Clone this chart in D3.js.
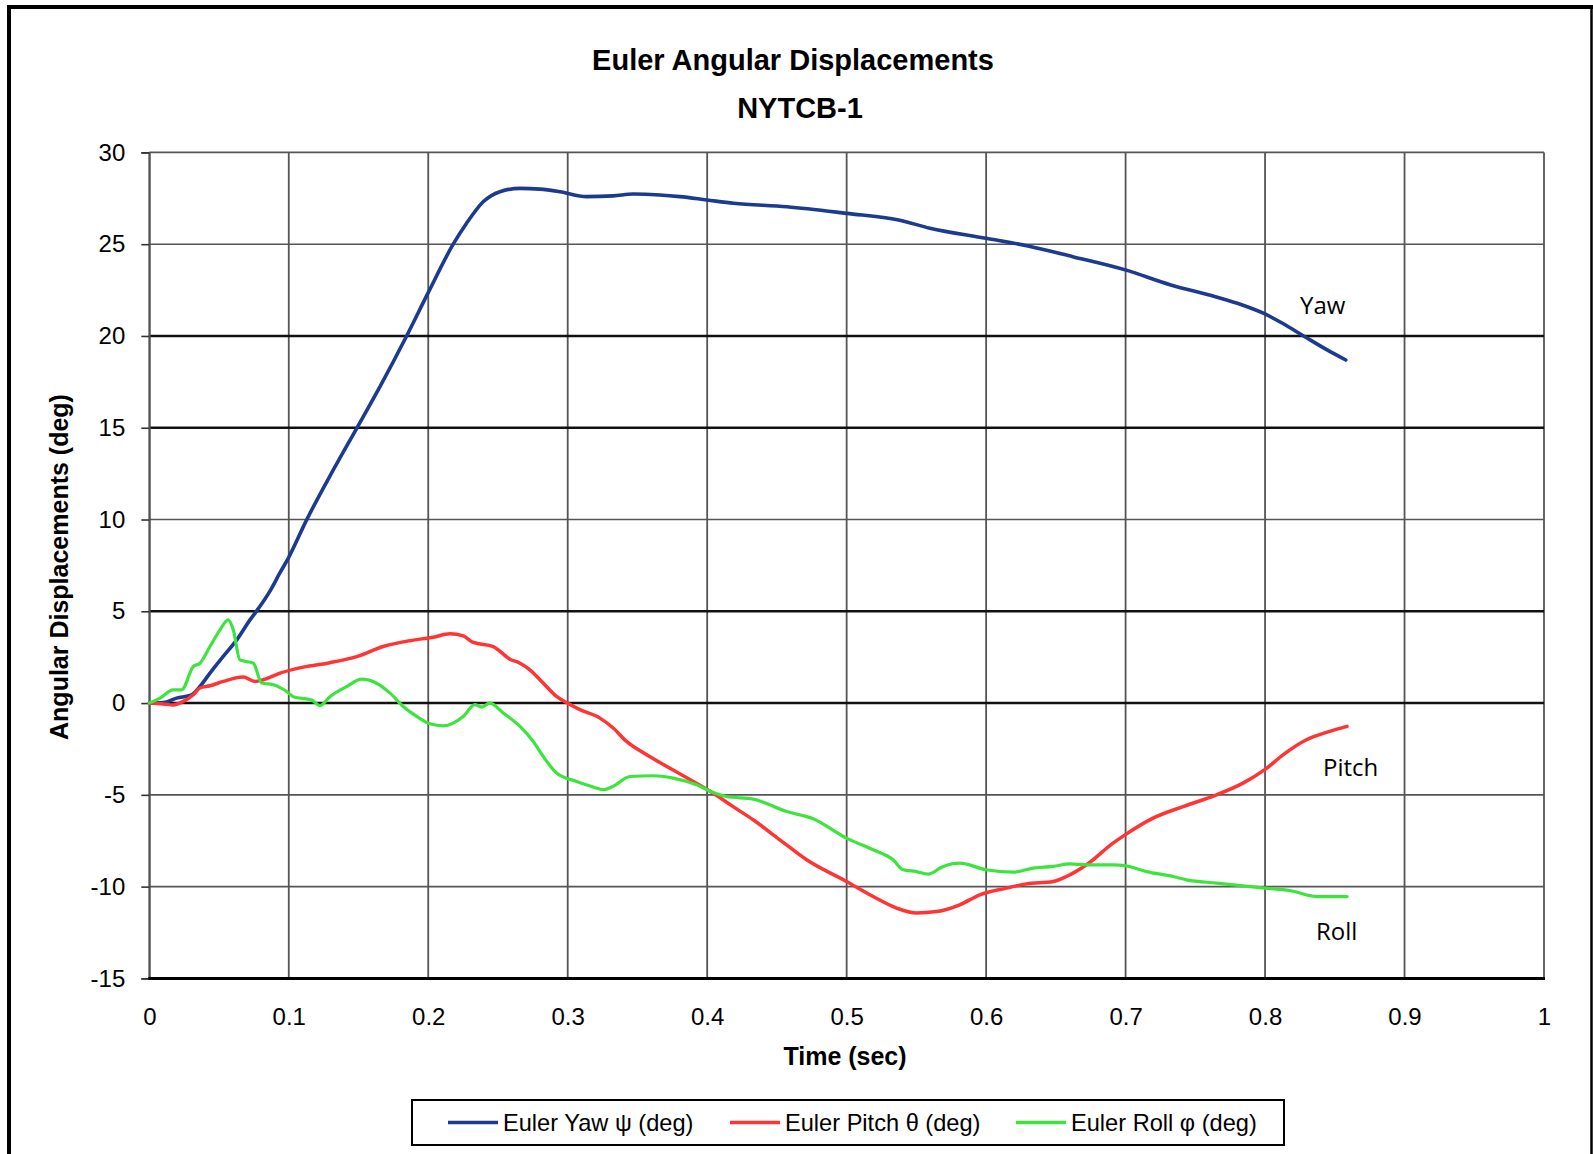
<!DOCTYPE html>
<html>
<head>
<meta charset="utf-8">
<script src="https://cdn.jsdelivr.net/npm/d3@7"></script>
<style>
  html, body { margin: 0; padding: 0; background: #fff; }
  svg { display: block; }
  text { font-family: "Liberation Sans", Arial, sans-serif; fill: #000; }
</style>
</head>
<body>
<svg id="chart" width="1593" height="1154"></svg>
<script>
// ---------------- data ----------------
const titleText = "Euler Angular Displacements";
const subtitleText = "NYTCB-1";
const xTitle = "Time (sec)";
const yTitle = "Angular Displacements (deg)";
const xTicks = [0, 0.1, 0.2, 0.3, 0.4, 0.5, 0.6, 0.7, 0.8, 0.9, 1];
const yTicks = [-15, -10, -5, 0, 5, 10, 15, 20, 25, 30];
const seriesNames = ["Euler Yaw \u03c8 (deg)", "Euler Pitch \u03b8 (deg)", "Euler Roll \u03c6 (deg)"];
const seriesLabels = ["Yaw", "Pitch", "Roll"];

const yawT = [0,0.01,0.0196,0.0304,0.0363,0.0435,0.053,0.0627,0.0722,0.077,0.0865,0.0937,0.0997,0.1128,0.1319,0.1487,0.1654,0.1845,0.1998,0.2179,0.2275,0.2394,0.2514,0.2658,0.2801,0.2944,0.3135,0.3326,0.347,0.366,0.3804,0.3997,0.4189,0.4572,0.4998,0.5373,0.5597,0.6,0.63,0.6621,0.6998,0.7324,0.7644,0.7837,0.8,0.8125,0.8285,0.8445,0.8579];
const yawV = [0,0.03,0.27,0.45,0.9,1.63,2.54,3.44,4.53,5.02,6.1,7.1,7.9,9.98,12.7,14.97,17.24,20.0,22.33,25.0,26.14,27.31,27.86,28.04,28.0,27.86,27.59,27.63,27.73,27.68,27.59,27.41,27.23,27.04,26.68,26.32,25.87,25.32,24.9,24.32,23.6,22.78,22.14,21.69,21.2,20.69,19.96,19.24,18.69];

const pitchT = [0,0.01,0.0172,0.0244,0.0315,0.0363,0.0435,0.053,0.0674,0.0758,0.0817,0.0937,0.1104,0.1295,0.1487,0.1677,0.1869,0.2036,0.2156,0.2251,0.2323,0.2466,0.2586,0.2658,0.2729,0.2824,0.292,0.2997,0.3088,0.3231,0.3326,0.3422,0.3566,0.3733,0.39,0.4043,0.4186,0.433,0.4521,0.4713,0.4999,0.519,0.5358,0.5501,0.5645,0.5811,0.5955,0.6146,0.629,0.648,0.6576,0.672,0.691,0.6996,0.7197,0.7412,0.7652,0.7842,0.7998,0.8129,0.8297,0.8464,0.8588];
const pitchV = [0,-0.05,-0.1,0.09,0.45,0.82,0.94,1.18,1.42,1.18,1.27,1.63,1.96,2.2,2.53,3.08,3.4,3.59,3.77,3.66,3.3,3.08,2.39,2.17,1.81,1.09,0.36,0,-0.36,-0.82,-1.36,-2.09,-2.82,-3.55,-4.27,-4.91,-5.64,-6.36,-7.45,-8.54,-9.72,-10.54,-11.17,-11.44,-11.36,-10.99,-10.45,-10.08,-9.85,-9.72,-9.45,-8.81,-7.63,-7.18,-6.27,-5.64,-5.0,-4.36,-3.63,-2.82,-2.0,-1.54,-1.27];

const rollT = [0,0.0077,0.0172,0.0232,0.0315,0.0363,0.0435,0.0507,0.0566,0.0602,0.065,0.0698,0.0746,0.0806,0.0889,0.0985,0.1032,0.1164,0.1224,0.1295,0.1415,0.1523,0.163,0.1726,0.1821,0.1917,0.2012,0.2108,0.2251,0.2335,0.2383,0.2442,0.2538,0.2658,0.2753,0.2824,0.292,0.3064,0.3183,0.3255,0.3326,0.3446,0.3613,0.3756,0.3924,0.4043,0.4139,0.433,0.4569,0.476,0.4999,0.519,0.5333,0.5405,0.5501,0.5584,0.5692,0.5811,0.5998,0.6194,0.6337,0.648,0.66,0.672,0.691,0.6996,0.715,0.734,0.7437,0.7652,0.7998,0.8177,0.8369,0.8588];
const rollV = [0,0.27,0.72,0.72,1.99,2.17,3.08,3.99,4.53,3.99,2.35,2.26,2.17,1.09,1.0,0.63,0.35,0.17,-0.14,0.35,0.9,1.3,1.08,0.54,-0.19,-0.73,-1.13,-1.24,-0.73,-0.09,-0.22,0,-0.54,-1.27,-2.09,-2.9,-3.81,-4.27,-4.57,-4.72,-4.54,-4.0,-3.96,-4.09,-4.45,-4.87,-5.09,-5.23,-5.91,-6.3,-7.36,-7.99,-8.54,-9.08,-9.18,-9.32,-8.9,-8.72,-9.08,-9.21,-8.99,-8.9,-8.76,-8.81,-8.81,-8.86,-9.18,-9.45,-9.63,-9.81,-10.08,-10.21,-10.54,-10.54];

// ---------------- layout ----------------
const colors = ["#1c3a8e", "#ff3434", "#3ee43e"];
const widths = [3.6, 3.5, 3.2];
const plot = { left: 149.3, right: 1544, top: 152.4, bottom: 978.4 };

const svg = d3.select("#chart");
const x = d3.scaleLinear().domain([0, 1]).range([plot.left, plot.right]);
const y = d3.scaleLinear().domain([-15, 30]).range([plot.bottom, plot.top]);

// outer frame
svg.append("line").attr("x1", 9).attr("y1", 5).attr("x2", 9).attr("y2", 1160).attr("stroke", "#000").attr("stroke-width", 4);
svg.append("line").attr("x1", 7).attr("y1", 7).attr("x2", 1593).attr("y2", 7).attr("stroke", "#000").attr("stroke-width", 4);
svg.append("line").attr("x1", 1591.5).attr("y1", 5).attr("x2", 1591.5).attr("y2", 1160).attr("stroke", "#000").attr("stroke-width", 2.5);

// titles
svg.append("text").attr("x", 793).attr("y", 70).attr("text-anchor", "middle")
  .style("font-size", "29px").style("font-weight", "bold").text(titleText);
svg.append("text").attr("x", 800).attr("y", 118).attr("text-anchor", "middle")
  .style("font-size", "29px").style("font-weight", "bold").text(subtitleText);

// gridlines
const thickY = new Set([20, 15, 5, 0]);
const grid = svg.append("g");
grid.selectAll("line.v").data(xTicks).enter().append("line")
  .attr("x1", d => x(d)).attr("x2", d => x(d))
  .attr("y1", plot.top).attr("y2", plot.bottom)
  .attr("stroke", "#555").attr("stroke-width", 1.8);
grid.selectAll("line.h").data(yTicks.filter(d => d !== -15)).enter().append("line")
  .attr("x1", plot.left).attr("x2", plot.right)
  .attr("y1", d => y(d)).attr("y2", d => y(d))
  .attr("stroke", d => thickY.has(d) ? "#111" : "#555")
  .attr("stroke-width", d => thickY.has(d) ? 2.6 : 1.6);

// axes
const yAxis = d3.axisLeft(y).tickValues(yTicks).tickSize(8).tickPadding(16).tickFormat(d3.format("d"));
const gy = svg.append("g").attr("transform", `translate(${plot.left},0)`).call(yAxis);
gy.select(".domain").attr("stroke", "#555").attr("stroke-width", 1.8);
gy.selectAll(".tick line").attr("stroke", "#333").attr("stroke-width", 1.6);
gy.selectAll(".tick text").style("font-size", "24px").style("font-family", '"Liberation Sans", Arial, sans-serif')
  .text(d => d < 0 ? "-" + Math.abs(d) : d);

const xAxis = d3.axisBottom(x).tickValues(xTicks).tickSize(0).tickPadding(30).tickFormat(d => d === 0 ? "0" : d === 1 ? "1" : d3.format(".1f")(d));
const gx = svg.append("g").attr("transform", `translate(0,${plot.bottom})`).call(xAxis);
gx.select(".domain").remove();
gx.selectAll(".tick text").style("font-size", "24px").style("font-family", '"Liberation Sans", Arial, sans-serif');
svg.append("line").attr("x1", plot.left - 1).attr("x2", plot.right + 1)
  .attr("y1", plot.bottom).attr("y2", plot.bottom).attr("stroke", "#000").attr("stroke-width", 3);

// axis titles
svg.append("text").attr("x", 845).attr("y", 1065).attr("text-anchor", "middle")
  .style("font-size", "25px").style("font-weight", "bold").text(xTitle);
svg.append("text").attr("transform", "translate(68,567) rotate(-90)").attr("text-anchor", "middle")
  .style("font-size", "25px").style("font-weight", "bold").text(yTitle);

// series
const series = [
  { t: yawT, v: yawV },
  { t: pitchT, v: pitchV },
  { t: rollT, v: rollV }
];
const line = d3.line().x(d => x(d[0])).y(d => y(d[1])).curve(d3.curveMonotoneX);
series.forEach((s, i) => {
  const pts = s.t.map((t, k) => [t, s.v[k]]);
  svg.append("path").datum(pts).attr("d", line)
    .attr("fill", "none").attr("stroke", colors[i]).attr("stroke-width", widths[i])
    .attr("stroke-linejoin", "round").attr("stroke-linecap", "round");
});

// in-plot labels
const labelPos = [[1300, 314], [1323, 776], [1316, 940]];
seriesLabels.forEach((lab, i) => {
  svg.append("text").attr("x", labelPos[i][0]).attr("y", labelPos[i][1])
    .style("font-family", '"Open Sans", "Noto Sans", sans-serif').style("font-size", "24px").text(lab);
});

// legend
const lg = svg.append("g");
lg.append("rect").attr("x", 412).attr("y", 1100).attr("width", 872).attr("height", 45)
  .attr("fill", "#fff").attr("stroke", "#000").attr("stroke-width", 2);
const legendX = [448, 730, 1016];
seriesNames.forEach((nm, i) => {
  lg.append("line").attr("x1", legendX[i]).attr("x2", legendX[i] + 50)
    .attr("y1", 1122.5).attr("y2", 1122.5).attr("stroke", colors[i]).attr("stroke-width", 3.5);
  lg.append("text").attr("x", legendX[i] + 55).attr("y", 1131)
    .style("font-size", "23.6px").text(nm);
});
</script>
</body>
</html>
